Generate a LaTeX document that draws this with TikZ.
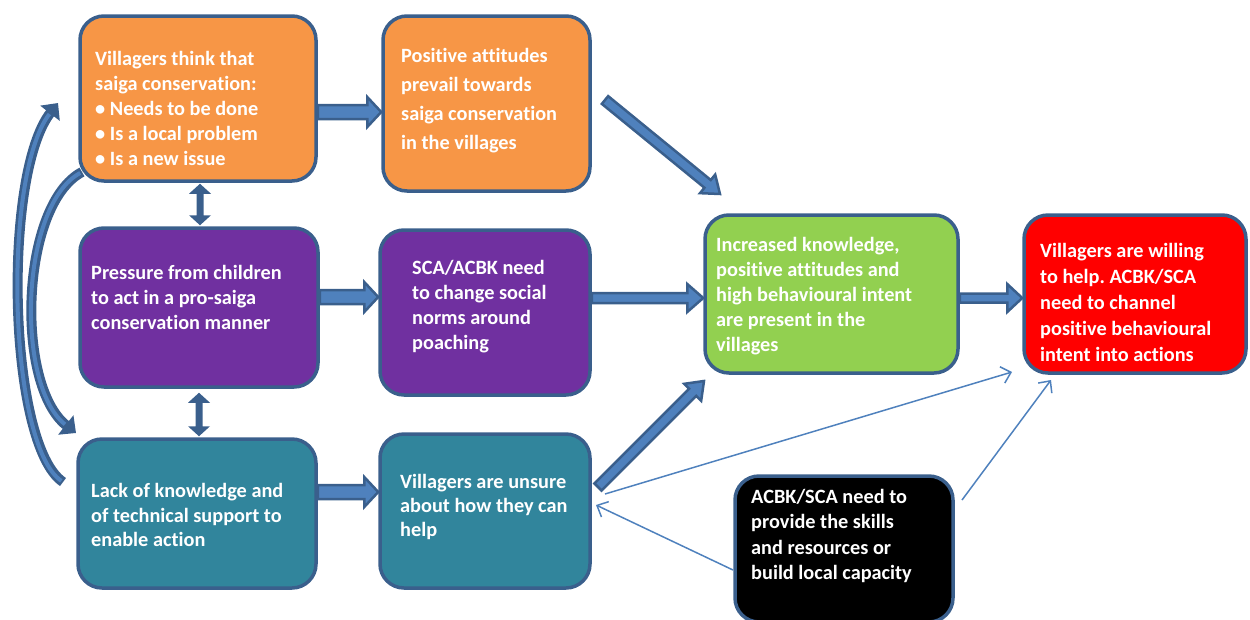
\documentclass[tikz,border=0pt]{standalone}
\usepackage{fontspec}
\setmainfont[Ligatures=NoCommon]{Carlito}
\frenchspacing
\usetikzlibrary{arrows.meta,calc}
\definecolor{bord}{HTML}{3A5F8C}
\definecolor{afill}{HTML}{4F81BD}
\definecolor{corange}{HTML}{F79646}
\definecolor{cpurple}{HTML}{7030A0}
\definecolor{cteal}{HTML}{31859C}
\definecolor{cgreen}{HTML}{92D050}
\definecolor{cred}{HTML}{FF0000}
\newcommand\blkgeom[2]{%
  \path let \p1=(#1), \p2=(#2) in
    \pgfextra{\pgfmathsetmacro\tmpa{atan2(\y2-\y1,\x2-\x1)}\pgfmathsetmacro\tmpb{veclen(\x2-\x1,\y2-\y1)}%
      \xdef\bang{\tmpa}\xdef\blen{\tmpb}\xdef\bx{\x1}\xdef\by{\y1}};}
\newcommand\myblk[5]{%
  \blkgeom{#1}{#2}%
  \begin{scope}[shift={(\bx,\by)}, rotate=\bang]
    \draw[barrow] (0pt,#3pt) -- ({\blen pt-#5pt},#3pt) -- ({\blen pt-#5pt},#4pt) -- (\blen pt,0pt)
      -- ({\blen pt-#5pt},-#4pt) -- ({\blen pt-#5pt},-#3pt) -- (0pt,-#3pt) -- cycle;
  \end{scope}}
\newcommand\mydbl[5]{%
  \blkgeom{#1}{#2}%
  \begin{scope}[shift={(\bx,\by)}, rotate=\bang]
    \fill[bord] (0pt,0pt) -- (#5pt,#4pt) -- (#5pt,#3pt) -- ({\blen pt-#5pt},#3pt) -- ({\blen pt-#5pt},#4pt) -- (\blen pt,0pt)
      -- ({\blen pt-#5pt},-#4pt) -- ({\blen pt-#5pt},-#3pt) -- (#5pt,-#3pt) -- (#5pt,-#4pt) -- cycle;
  \end{scope}}
\begin{document}
\begin{tikzpicture}[x=1pt,y=-1pt,
  box/.style={draw=bord, line width=3.5pt, rounded corners=24pt, inner sep=0pt, rectangle},
  txt/.style={text=white, font=\fontsize{20.3}{25}\selectfont\bfseries, align=left, anchor=west, inner sep=0pt},
  barrow/.style={draw=bord, line width=2.5pt, fill=afill, line join=miter},
  thinarr/.style={draw=afill, line width=1.5pt, -{Straight Barb[length=9pt,width=17pt]}},
  curvedark/.style={draw=bord, line width=10pt, -{Triangle[length=13pt,width=24pt]}},
  curvelight/.style={draw=afill, line width=4pt},
]
\clip (0,0) rectangle (1250,619);
% boxes
\node[box, fill=corange, minimum width=236pt, minimum height=165pt] (o1) at (198,98.5) {};
\node[box, fill=corange, minimum width=207pt, minimum height=175pt] (o2) at (486.5,103.5) {};
\node[box, fill=cpurple, minimum width=238pt, minimum height=159pt] (p1) at (199,307.5) {};
\node[box, fill=cpurple, minimum width=210pt, minimum height=165pt] (p2) at (485,312.5) {};
\node[box, fill=cteal, minimum width=238pt, minimum height=149pt] (t1) at (197,513.5) {};
\node[box, fill=cteal, minimum width=210pt, minimum height=154pt] (t2) at (485,511) {};
\node[box, fill=cgreen, minimum width=253pt, minimum height=158pt] (g) at (831.5,294) {};
\node[box, fill=cred, minimum width=222pt, minimum height=158pt] (r) at (1135,294) {};
\node[box, fill=black, minimum width=218pt, minimum height=146pt] (k) at (844,549) {};
% texts
\node[txt] (o1t) at (95,108) {Villagers think that\\saiga conservation:\\• Needs to be done\\• Is a local problem\\• Is a new issue};
\node[txt, font=\fontsize{20.3}{29}\selectfont\bfseries] (o2t) at (401,101) {Positive attitudes\\prevail towards\\saiga conservation\\in the villages};
\node[txt] (p1t) at (91,297) {Pressure from children\\to act in a pro-saiga\\conservation manner};
\node[txt] (p2t) at (412,307) {SCA/ACBK need\\to change social\\norms around\\poaching};
\node[txt, font=\fontsize{20.3}{24.5}\selectfont\bfseries] (t1t) at (91,515) {Lack of knowledge and\\of technical support to\\enable action};
\node[txt, font=\fontsize{20.3}{24}\selectfont\bfseries] (t2t) at (400,507) {Villagers are unsure\\about how they can\\help};
\node[txt] (gt) at (716,296) {Increased knowledge,\\positive attitudes and\\high behavioural intent\\are present in the\\villages};
\node[txt, font=\fontsize{20.3}{26}\selectfont\bfseries] (rt) at (1040,302) {Villagers are willing\\to help. ACBK/SCA\\need to channel\\positive behavioural\\intent into actions};
\node[txt, font=\fontsize{20.3}{25.5}\selectfont\bfseries] (kt) at (751,536) {ACBK/SCA need to\\provide the skills\\and resources or\\build local capacity};
% block arrows
\myblk{o1.east |- 0,112}{o2.west |- 0,112}{7}{15}{14}
\myblk{p1.east |- 0,297}{p2.west |- 0,297}{7}{15}{14}
\myblk{t1.east |- 0,492}{t2.west |- 0,492}{7}{15}{14}
\myblk{p2.east |- 0,298}{g.west |- 0,298}{5}{14}{16}
\myblk{g.east |- 0,298}{r.west |- 0,298}{4.5}{14}{15}
\coordinate (d1s) at (605,100);
\coordinate (d1e) at (720,194);
\coordinate (d2s) at (598,487);
\coordinate (d2e) at (704,381);
\myblk{d1s}{d1e}{5}{12}{16}
\myblk{d2s}{d2e}{5}{12}{16}
% vertical double arrows
\mydbl{$(o1.south)+(2,1)$}{$(p1.north)+(1,-1)$}{3.5}{11}{10}
\mydbl{$(p1.south)+(0,4)$}{$(t1.north)+(2,-1)$}{3.5}{11}{10}
% curved arrows
\coordinate (c1s) at (63,482);
\coordinate (c1e) at (58,103);
\coordinate (c2s) at (82,172);
\coordinate (c2e) at (76,433);
\draw[curvedark] (c1s) .. controls (8,445) and (2,175) .. (c1e);
\draw[curvelight, shorten >=14pt, shorten <=2pt] (c1s) .. controls (8,445) and (2,175) .. (c1e);
\draw[curvedark] (c2s) .. controls (20,205) and (15,385) .. (c2e);
\draw[curvelight, shorten >=14pt, shorten <=2pt] (c2s) .. controls (20,205) and (15,385) .. (c2e);
% thin arrows
\coordinate (a1s) at (605,494);
\coordinate (a1e) at (1012,372);
\coordinate (a2s) at (733,570);
\coordinate (a2e) at (596,505);
\coordinate (a3s) at (962,500);
\coordinate (a3e) at (1051,380);
\draw[thinarr] (a1s) -- (a1e);
\draw[thinarr] (a2s) -- (a2e);
\draw[thinarr] (a3s) -- (a3e);
\end{tikzpicture}
\end{document}
